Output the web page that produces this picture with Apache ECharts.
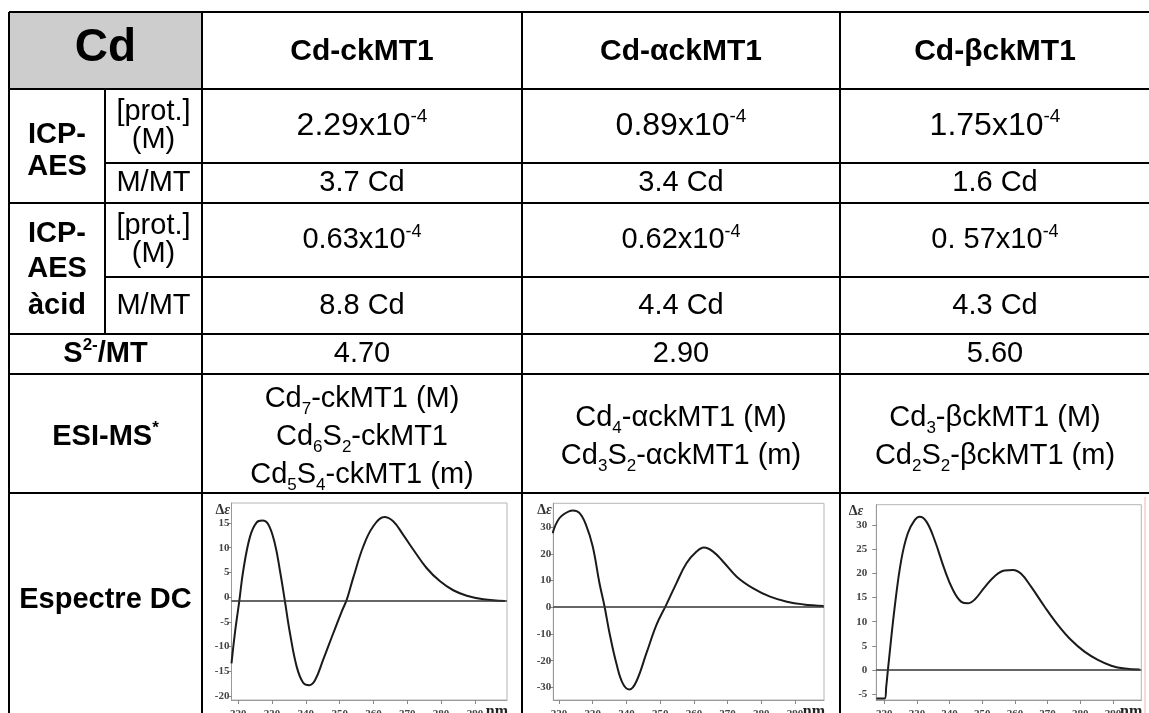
<!DOCTYPE html>
<html>
<head>
<meta charset="utf-8">
<style>html,body{margin:0;padding:0;background:#fff}#chart{width:1149px;height:713px}</style>
<script src="https://cdn.jsdelivr.net/npm/echarts@6/dist/echarts.min.js"></script>
</head>
<body>
<div id="chart"></div>
<script>
(() => {
    "use strict";
    // --- table content ---
    const proteins = ['Cd-ckMT1', 'Cd-αckMT1', 'Cd-βckMT1'];
    const icpProt = ['2.29x10{p|-4}', '0.89x10{p|-4}', '1.75x10{p|-4}'];
    const icpMetal = ['3.7 Cd', '3.4 Cd', '1.6 Cd'];
    const acidProt = ['0.63x10{p|-4}', '0.62x10{p|-4}', '0. 57x10{p|-4}'];
    const acidMetal = ['8.8 Cd', '4.4 Cd', '4.3 Cd'];
    const sulfide = ['4.70', '2.90', '5.60'];
    const esiSpecies = [
        ['Cd{s|7}-ckMT1 (M)', 'Cd{s|6}S{s|2}-ckMT1', 'Cd{s|5}S{s|4}-ckMT1 (m)'],
        ['Cd{s|4}-αckMT1 (M)', 'Cd{s|3}S{s|2}-αckMT1 (m)'],
        ['Cd{s|3}-βckMT1 (M)', 'Cd{s|2}S{s|2}-βckMT1 (m)']
    ];

    // --- CD spectra, [nm, Δε] ---
    const cdCkMT1 = [[218.0,-13.4],[219.0,-7.3],[220.3,-0.8],[221.5,5.5],[223.5,12.3],[225.4,15.1],[227.1,15.5],[228.9,14.7],[230.8,10.9],[232.3,5.5],[233.8,-0.8],[235.3,-7.3],[237.3,-14.1],[239.2,-17.3],[241.0,-17.8],[242.7,-16.8],[245.1,-12.7],[248.1,-7.3],[250.6,-2.9],[252.1,-0.5],[254.0,3.9],[257.0,10.3],[259.9,14.3],[263.2,16.2],[265.9,15.3],[268.8,12.6],[271.8,9.6],[275.7,5.9],[279.7,3.2],[283.6,1.4],[287.6,0.3],[292.5,-0.4],[298.9,-0.75]];
    const cdAlphaCkMT1 = [[218.1,27.8],[220.1,33.4],[223.1,36.1],[224.1,36.3],[226.1,35.3],[228.0,30.9],[230.0,22.8],[232.0,9.0],[233.5,0.3],[235.0,-9.8],[237.0,-21.0],[238.9,-28.5],[240.9,-30.8],[242.9,-27.9],[245.9,-17.3],[248.9,-6.6],[251.8,0.9],[254.8,9.0],[257.8,16.5],[260.8,20.9],[263.0,22.4],[265.7,20.9],[268.7,17.1],[272.7,11.5],[277.6,7.1],[282.6,4.0],[287.6,2.1],[292.5,1.1],[298.5,0.5]];
    const cdBetaCkMT1 = [[217.6,-5.9],[220.1,-5.9],[220.6,-3.4],[221.1,0],[223.2,13.1],[225.2,22.8],[227.2,28.3],[229.3,31.0],[230.8,31.7],[232.9,30.7],[235.4,26.9],[238.5,20.7],[241.0,16.6],[243.6,14.1],[245.6,13.8],[247.7,14.6],[250.7,17.1],[253.8,19.4],[256.8,20.6],[259.4,20.7],[261.9,19.9],[265.0,17.2],[269.1,13.1],[273.2,9.3],[277.2,6.2],[281.3,3.8],[285.4,2.1],[289.5,0.9],[293.6,0.3],[298.2,0.1]];
    const baselines = [-0.75, 0.3, 0.1];
    const xTicks = [220, 230, 240, 250, 260, 270, 280, 290];
    const yTicks = [[-20, -15, -10, -5, 0, 5, 10, 15], [-30, -20, -10, 0, 10, 20, 30], [-5, 0, 5, 10, 15, 20, 25, 30]];
    const xRanges = [[218.0, 299.5], [218.3, 298.6], [217.55, 298.7]];
    const yRanges = [[-20.8, 19.05], [-34.75, 39], [-6.2, 34.2]];

    // --- layout ---
    const FONT = '"Liberation Sans", Arial, sans-serif';
    const SERIF = '"Liberation Serif", "Times New Roman", serif';
    const X = {left: 9, sub: 105, c1: 202, c2: 522, c3: 840, right: 1149};
    const Y = {top: 12, head: 89, icpSplit: 163, icp: 203, acidSplit: 277, acid: 334, s2: 374, esi: 493, bottom: 713};
    const colMid = [362, 681, 995];
    const boxes = [
        {left: 231.5, top: 503, width: 275.5, height: 197, labelMargin: 2, deX: -1.5},
        {left: 553.3, top: 503.3, width: 270.7, height: 196.7, labelMargin: 2, deX: -1.5},
        {left: 876.3, top: 504.7, width: 265, height: 195.3, labelMargin: 9, deX: -13}
    ];

    // sub/superscript styles for a line of height H and main size F
    function richFor(H, weight, F, fs) {
        return {
            s: {fontFamily: FONT, fontWeight: weight, fontSize: fs, fill: '#000', lineHeight: H - 0.62 * F, verticalAlign: 'bottom'},
            p: {fontFamily: FONT, fontWeight: weight, fontSize: fs, fill: '#000', lineHeight: H - 0.716 * (F - fs), verticalAlign: 'top'}
        };
    }
    function txt(x, y, text, o) {
        o = o || {};
        const F = o.size || 29, H = o.lh || 34, weight = o.bold ? 'bold' : 'normal';
        const fs = o.small || Math.round(F * 0.6);
        return {type: 'text', x: x, y: y, z: 20, style: {
            text: text, fontFamily: FONT, fontSize: F, fontWeight: weight, fill: '#000',
            lineHeight: H, align: 'center', verticalAlign: 'middle', rich: richFor(H, weight, F, fs)}};
    }
    function line(x1, y1, x2, y2, color, w) {
        return {type: 'line', z: 30, shape: {x1: x1, y1: y1, x2: x2, y2: y2}, style: {stroke: color || '#000', lineWidth: w || 2}};
    }

    const graphics = [];
    graphics.push({type: 'rect', z: 1, shape: {x: X.left, y: Y.top, width: X.c1 - X.left, height: Y.head - Y.top}, style: {fill: '#cdcdcd'}});
    [Y.top, Y.head, Y.icp, Y.acid, Y.s2, Y.esi].forEach(y => graphics.push(line(X.left, y, X.right, y)));
    [Y.icpSplit, Y.acidSplit].forEach(y => graphics.push(line(X.sub, y, X.right, y)));
    [X.left, X.c1, X.c2, X.c3].forEach(x => graphics.push(line(x, Y.top, x, Y.bottom)));
    graphics.push(line(X.sub, Y.head, X.sub, Y.acid));
    // thin red edge of the scanned plot on the right
    graphics.push(line(1145, 497, 1145, 713, '#f2b3b3', 1));

    // row headers
    const labMid = (X.left + X.c1) / 2, aMid = (X.left + X.sub) / 2, bMid = (X.sub + X.c1) / 2;
    graphics.push(txt(labMid, 48, 'Cd', {size: 46, bold: true}));
    graphics.push(txt(aMid, 135, 'ICP-', {bold: true}), txt(aMid, 167, 'AES', {bold: true}));
    graphics.push(txt(bMid, 112, '[prot.]'), txt(bMid, 140, '(M)'), txt(bMid, 183, 'M/MT'));
    graphics.push(txt(aMid, 234, 'ICP-', {bold: true}), txt(aMid, 269, 'AES', {bold: true}), txt(aMid, 306, 'àcid', {bold: true}));
    graphics.push(txt(bMid, 226, '[prot.]'), txt(bMid, 254, '(M)'), txt(bMid, 305.5, 'M/MT'));
    graphics.push(txt(labMid, 354, 'S{p|2-}/MT', {bold: true, small: 17}));
    graphics.push(txt(labMid, 437, 'ESI-MS{p|*}', {bold: true, small: 17}));
    graphics.push(txt(labMid, 600, 'Espectre DC', {bold: true}));

    // values
    proteins.forEach((p, i) => {
        const cx = colMid[i];
        graphics.push(txt(cx, 52, p, {bold: true, size: 30}));
        graphics.push(txt(cx, 126, icpProt[i], {size: 32, lh: 38, small: 19}));
        graphics.push(txt(cx, 183, icpMetal[i]));
        graphics.push(txt(cx, 240, acidProt[i], {small: 18}));
        graphics.push(txt(cx, 305.5, acidMetal[i]));
        graphics.push(txt(cx, 354, sulfide[i]));
        graphics.push(txt(cx, 437, esiSpecies[i].join('\n'), {lh: 38, small: 17}));
    });

    // spectra decorations: Δε and nm
    boxes.forEach(b => {
        graphics.push({type: 'text', z: 20, x: b.left + b.deX, y: b.top + 7, style: {
            text: '{d|Δ}{e|ε}', align: 'right', verticalAlign: 'middle',
            rich: {d: {fontFamily: SERIF, fontWeight: 'bold', fontSize: 14, fill: '#333'},
                   e: {fontFamily: SERIF, fontWeight: 'bold', fontStyle: 'italic', fontSize: 14, fill: '#333'}}}});
        graphics.push({type: 'text', z: 20, x: b.left + b.width + 1, y: b.top + b.height + 4, style: {
            text: 'nm', align: 'right', verticalAlign: 'top', fontFamily: SERIF, fontWeight: 'bold', fontSize: 16, fill: '#222'}});
    });

    const spectra = [cdCkMT1, cdAlphaCkMT1, cdBetaCkMT1];
    const axisText = {fontFamily: SERIF, fontWeight: 'bold', fontSize: 11, color: '#444'};
    const _chart = echarts.init(document.getElementById('chart'), null, {renderer: 'canvas'});
    const _chartOption = {
        animation: false,
        backgroundColor: '#fff',
        grid: boxes.map(b => ({left: b.left, top: b.top, width: b.width, height: b.height, show: true,
            borderColor: '#b4b4b4', borderWidth: 1, backgroundColor: 'transparent', containLabel: false, outerBoundsMode: 'none'})),
        xAxis: boxes.map((b, i) => ({gridIndex: i, type: 'value', min: xRanges[i][0], max: xRanges[i][1],
            axisLine: {show: true, onZero: false, lineStyle: {color: '#999', width: 1}},
            axisTick: {show: true, length: 4, customValues: xTicks, lineStyle: {color: '#888'}},
            axisLabel: Object.assign({customValues: xTicks, margin: 9}, axisText),
            splitLine: {show: false}})),
        yAxis: boxes.map((b, i) => ({gridIndex: i, type: 'value', min: yRanges[i][0], max: yRanges[i][1],
            axisLine: {show: true, onZero: false, lineStyle: {color: '#999', width: 1}},
            axisTick: {show: true, length: 4, customValues: yTicks[i], lineStyle: {color: '#888'}},
            axisLabel: Object.assign({customValues: yTicks[i], margin: b.labelMargin}, axisText),
            splitLine: {show: false}})),
        series: spectra.map((d, i) => ({type: 'line', xAxisIndex: i, yAxisIndex: i, data: d,
            showSymbol: false, smooth: 0.4, silent: true,
            lineStyle: {color: '#1a1a1a', width: 2},
            markLine: {silent: true, symbol: ['none', 'none'], label: {show: false},
                lineStyle: {color: '#333', width: 1.5, type: 'solid'}, data: [{yAxis: baselines[i]}]}})),
        graphic: graphics
    };
    _chart.setOption(_chartOption);
})();
</script>
</body>
</html>
